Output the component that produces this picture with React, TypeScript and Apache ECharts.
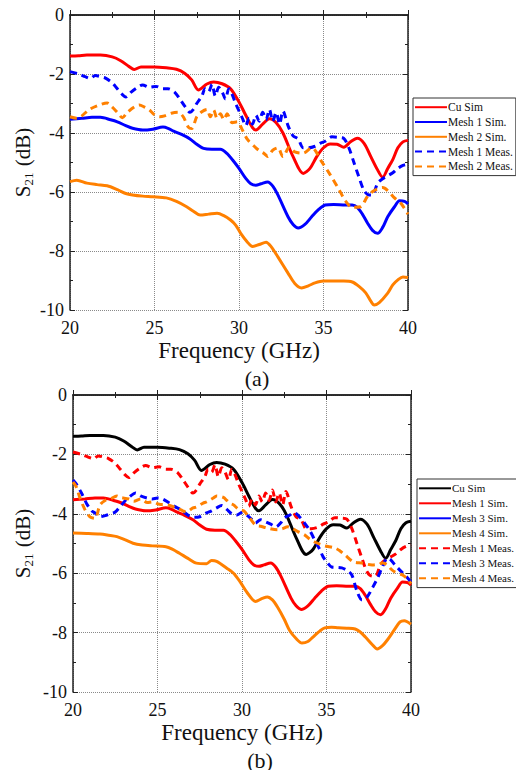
import React, { useEffect, useRef } from "react";
import * as echarts from "echarts";

const FONT = "Liberation Serif";

// ---------- data (frequency GHz, S21 dB) ----------
const cuSim: [number, number][] = [
  [20, -1.39], [20.5, -1.38], [21, -1.36], [21.8, -1.36], [22.5, -1.42], [23, -1.55], [23.5, -1.75], [23.8, -1.85],
  [24.2, -1.76], [25, -1.76], [25.7, -1.79], [26.3, -1.84], [26.8, -1.98], [27.2, -2.2], [27.6, -2.54], [28.1, -2.34],
  [28.5, -2.27], [29, -2.33], [29.5, -2.5], [30, -2.95], [30.4, -3.4], [30.8, -3.82], [31.0, -3.9], [31.4, -3.7],
  [31.8, -3.52], [32.2, -3.65], [32.6, -4.0], [33.2, -4.8], [33.8, -5.37], [34.2, -5.2], [34.6, -4.8], [35, -4.5],
  [35.4, -4.37], [35.8, -4.38], [36.2, -4.48], [36.6, -4.3], [37, -4.18], [37.4, -4.35], [37.8, -4.8], [38.2, -5.25],
  [38.5, -5.5], [38.8, -5.2], [39.1, -4.9], [39.4, -4.5], [39.7, -4.3], [40, -4.25],
];

const mesh1Sim: [number, number][] = [
  [20, -3.53], [20.7, -3.5], [21.3, -3.47], [21.8, -3.47], [22.4, -3.55], [22.8, -3.62], [23.3, -3.75], [23.7, -3.84],
  [24.3, -3.9], [24.9, -3.87], [25.5, -3.8], [25.8, -3.84], [26.1, -3.93], [26.6, -4.05], [27.1, -4.2], [27.5, -4.38],
  [27.9, -4.52], [28.4, -4.55], [28.9, -4.55], [29.3, -4.7], [29.6, -4.9], [30.0, -5.2], [30.4, -5.54], [30.7, -5.72],
  [31.0, -5.77], [31.3, -5.72], [31.7, -5.66], [32.0, -5.8], [32.3, -6.1], [32.9, -6.84], [33.2, -7.1], [33.5, -7.22],
  [33.9, -7.1], [34.3, -6.84], [34.7, -6.6], [35.1, -6.44], [35.6, -6.42], [36.3, -6.44], [36.7, -6.44], [37.0, -6.52],
  [37.3, -6.75], [37.6, -7.05], [37.9, -7.3], [38.2, -7.4], [38.5, -7.2], [38.8, -6.84], [39.2, -6.5], [39.5, -6.3],
  [39.8, -6.32], [40, -6.4],
];

const mesh2Sim: [number, number][] = [
  [20, -5.65], [20.4, -5.6], [21, -5.7], [21.6, -5.75], [22.2, -5.79], [22.8, -5.92], [23.3, -6.05], [23.7, -6.1],
  [24.3, -6.14], [24.9, -6.16], [25.7, -6.2], [26.3, -6.32], [26.9, -6.5], [27.3, -6.65], [27.7, -6.78], [28.2, -6.75],
  [28.7, -6.72], [29.1, -6.8], [29.5, -6.95], [29.8, -7.12], [30.1, -7.4], [30.5, -7.7], [30.8, -7.85], [31.2, -7.78],
  [31.6, -7.7], [31.9, -7.85], [32.3, -8.2], [32.9, -8.75], [33.3, -9.1], [33.7, -9.25], [34.1, -9.18], [34.5, -9.08],
  [35.0, -9.02], [35.5, -9.02], [36.2, -9.02], [36.7, -9.05], [37.1, -9.2], [37.5, -9.42], [37.8, -9.7], [38.0, -9.83],
  [38.3, -9.75], [38.8, -9.43], [39.1, -9.15], [39.4, -8.98], [39.7, -8.88], [40, -8.9],
];

const mesh1Meas: [number, number][] = [
  [20, -1.92], [20.5, -2.0], [20.9, -2.09], [21.2, -2.15], [21.5, -2.05], [21.8, -2.09], [22.1, -2.14], [22.5, -2.3],
  [22.8, -2.5], [23.1, -2.7], [23.3, -2.78], [23.6, -2.62], [24.0, -2.45], [24.3, -2.37], [24.7, -2.45], [25.1, -2.42],
  [25.5, -2.5], [25.8, -2.5], [26.2, -2.62], [26.5, -2.85], [26.8, -3.1], [27.1, -3.3], [27.3, -3.2], [27.5, -3.0],
  [27.8, -2.75], [28.0, -2.5], [28.2, -2.6], [28.4, -2.35], [28.6, -2.75], [28.8, -2.45], [29.0, -2.6], [29.2, -2.85],
  [29.4, -2.5], [29.6, -2.7], [29.8, -3.0], [30.0, -3.25], [30.2, -3.5], [30.4, -3.75], [30.6, -3.5], [30.8, -3.7],
  [31.0, -3.4], [31.2, -3.6], [31.4, -3.3], [31.6, -3.55], [31.8, -3.2], [32.0, -3.6], [32.2, -3.3], [32.4, -3.7],
  [32.6, -3.25], [32.9, -3.75], [33.2, -4.1], [33.5, -4.2], [33.8, -4.5], [34.1, -4.5], [34.5, -4.45], [34.8, -4.35],
  [35.1, -4.28], [35.5, -4.13], [35.9, -4.15], [36.2, -4.18], [36.5, -4.5], [36.8, -5.0], [37.1, -5.5], [37.4, -5.95],
  [37.7, -6.1], [37.9, -6.1], [38.2, -5.7], [38.5, -5.55], [38.8, -5.45], [39.1, -5.35], [39.4, -5.2], [39.7, -5.1],
  [40, -5.05],
];

const mesh2Meas: [number, number][] = [
  [20, -3.45], [20.4, -3.5], [20.7, -3.42], [21.1, -3.22], [21.6, -3.08], [22.2, -2.98], [22.5, -3.12], [22.8, -3.3],
  [23.1, -3.48], [23.4, -3.3], [23.8, -3.12], [24.1, -3.05], [24.4, -3.12], [24.7, -3.22], [25.0, -3.38], [25.3, -3.45],
  [25.6, -3.42], [26.0, -3.33], [26.4, -3.3], [26.7, -3.45], [27.0, -3.8], [27.2, -3.85], [27.5, -3.45], [27.8, -3.28],
  [28.1, -3.2], [28.3, -3.45], [28.5, -3.22], [28.7, -3.5], [28.9, -3.35], [29.1, -3.55], [29.3, -3.35], [29.6, -3.65],
  [29.9, -3.62], [30.2, -3.9], [30.5, -4.22], [30.9, -4.45], [31.2, -4.6], [31.5, -4.7], [31.7, -4.8], [32.0, -4.58],
  [32.3, -4.5], [32.6, -4.8], [33.0, -4.47], [33.3, -4.64], [33.8, -4.68], [34.3, -4.5], [34.9, -4.98], [35.4, -5.42],
  [35.9, -5.9], [36.3, -6.3], [36.7, -6.52], [37.2, -6.5], [37.6, -6.15], [38.0, -5.95], [38.5, -5.85], [38.8, -5.95],
  [39.2, -6.2], [39.6, -6.4], [40, -6.75],
];

const mesh3Sim: [number, number][] = [];

const mesh4Sim: [number, number][] = [
  [20, -4.65], [20.8, -4.66], [21.6, -4.68], [22.1, -4.72], [22.6, -4.77], [23.1, -4.88], [23.55, -4.99], [24.1, -5.05],
  [24.7, -5.08], [25.5, -5.11], [25.9, -5.2], [26.3, -5.33], [26.8, -5.5], [27.3, -5.66], [27.9, -5.68], [28.2, -5.57],
  [28.5, -5.6], [29.1, -5.83], [29.5, -6.0], [29.9, -6.3], [30.3, -6.65], [30.8, -6.95], [31.2, -6.85], [31.5, -6.8],
  [31.8, -6.9], [32.1, -7.14], [32.5, -7.55], [32.8, -7.91], [33.2, -8.2], [33.55, -8.35], [33.9, -8.3], [34.2, -8.15],
  [34.6, -7.95], [34.9, -7.84], [35.3, -7.82], [35.7, -7.84], [36.2, -7.85], [36.7, -7.88], [37.0, -7.98], [37.3, -8.15],
  [37.7, -8.4], [38.0, -8.55], [38.3, -8.45], [38.6, -8.25], [39.0, -7.92], [39.35, -7.64], [39.6, -7.6], [40, -7.72],
];

const mesh3Meas: [number, number][] = [
  [20, -2.86], [20.2, -3.0], [20.5, -3.3], [20.8, -3.65], [21.1, -3.9], [21.3, -3.97], [21.6, -4.1], [21.9, -4.06],
  [22.2, -4.0], [22.5, -3.94], [22.8, -3.75], [23.1, -3.55], [23.4, -3.4], [23.7, -3.3], [24.0, -3.4], [24.4, -3.47],
  [24.7, -3.5], [25.0, -3.47], [25.3, -3.5], [25.7, -3.64], [26.0, -3.75], [26.4, -3.87], [26.9, -4.08], [27.2, -4.12],
  [27.5, -4.1], [27.9, -3.97], [28.2, -3.9], [28.5, -3.8], [28.8, -3.72], [29.1, -3.85], [29.4, -4.0], [29.7, -4.04],
  [30.0, -3.95], [30.3, -4.05], [30.6, -4.2], [30.8, -4.31], [31.1, -4.2], [31.4, -4.27], [31.7, -4.35], [32.0, -4.44],
  [32.3, -4.3], [32.5, -4.14], [32.8, -4.05], [33.1, -3.97], [33.4, -4.1], [33.7, -4.31], [34.0, -4.55], [34.3, -4.88],
  [34.6, -5.2], [34.8, -5.45], [35.1, -5.68], [35.3, -5.79], [35.6, -5.8], [35.9, -5.82], [36.2, -5.9], [36.5, -6.06],
  [36.8, -6.6], [37.1, -6.9], [37.4, -6.8], [37.75, -6.46], [38.05, -6.13], [38.3, -5.8], [38.6, -5.49], [38.8, -5.55],
  [39.05, -5.72], [39.5, -5.99], [39.7, -6.1], [40, -6.3],
];

const mesh4Meas: [number, number][] = [
  [20, -2.93], [20.2, -3.1], [20.4, -3.45], [20.7, -3.85], [21.0, -4.1], [21.3, -4.15], [21.6, -3.7], [21.9, -3.55],
  [22.2, -3.5], [22.6, -3.4], [22.8, -3.45], [23.3, -3.5], [23.6, -3.58], [24.0, -3.5], [24.4, -3.62], [24.7, -3.6],
  [25.1, -3.68], [25.6, -3.7], [26.1, -3.8], [26.5, -3.9], [26.7, -3.94], [27.1, -3.8], [27.3, -3.77], [27.7, -3.64],
  [27.9, -3.6], [28.3, -3.47], [28.5, -3.4], [28.9, -3.45], [29.1, -3.55], [29.3, -3.65], [29.5, -3.7], [29.8, -3.85],
  [30.1, -3.9], [30.4, -4.1], [30.8, -4.38], [31.1, -4.42], [31.5, -4.48], [32.1, -4.54], [32.4, -4.5], [32.7, -4.44],
  [33.0, -4.5], [33.3, -4.6], [33.7, -4.71], [34.0, -4.85], [34.3, -4.95], [34.6, -5.02], [34.9, -5.08], [35.5, -5.15],
  [35.8, -5.25], [36.1, -5.39], [36.6, -5.62], [37.1, -5.66], [37.7, -5.72], [38.0, -5.7], [38.3, -5.66], [38.6, -5.72],
  [38.8, -5.85], [39.05, -5.96], [39.5, -6.06], [39.8, -6.2], [40, -6.35],
];

const xTicks = { min: 20, max: 40, interval: 5 };
const yTicks = { min: -10, max: 0, interval: 2 };
const xTickLabels = [20, 25, 30, 35, 40];
const yTickLabels = [0, -2, -4, -6, -8, -10];

const RED = "#FF0000";
const BLUE = "#0000FF";
const ORANGE = "#FF8000";
const BLACK = "#000000";

type SeriesDef = { name: string; data: [number, number][]; color: string; dashed: boolean };

const topSeries: SeriesDef[] = [
  { name: "Cu Sim", data: cuSim, color: RED, dashed: false },
  { name: "Mesh 1 Sim.", data: mesh1Sim, color: BLUE, dashed: false },
  { name: "Mesh 2 Sim.", data: mesh2Sim, color: ORANGE, dashed: false },
  { name: "Mesh 1 Meas.", data: mesh1Meas, color: BLUE, dashed: true },
  { name: "Mesh 2 Meas.", data: mesh2Meas, color: ORANGE, dashed: true },
];

const bottomSeries: SeriesDef[] = [
  { name: "Cu Sim", data: cuSim, color: BLACK, dashed: false },
  { name: "Mesh 1 Sim.", data: mesh1Sim, color: RED, dashed: false },
  { name: "Mesh 3 Sim.", data: mesh3Sim, color: BLUE, dashed: false },
  { name: "Mesh 4 Sim.", data: mesh4Sim, color: ORANGE, dashed: false },
  { name: "Mesh 1 Meas.", data: mesh1Meas, color: RED, dashed: true },
  { name: "Mesh 3 Meas.", data: mesh3Meas, color: BLUE, dashed: true },
  { name: "Mesh 4 Meas.", data: mesh4Meas, color: ORANGE, dashed: true },
];

type PanelCfg = {
  defs: SeriesDef[];
  grid: { left: number; top: number; width: number; height: number };
  legend: { left: number; top: number; fontSize: number; lineHeight: number };
  tag: string;
};

const topCfg: PanelCfg = {
  defs: topSeries,
  grid: { left: 70, top: 15, width: 338, height: 295 },
  legend: { left: 413, top: 98, fontSize: 11.5, lineHeight: 14.4 },
  tag: "(a)",
};
const bottomCfg: PanelCfg = {
  defs: bottomSeries,
  grid: { left: 73, top: 10, width: 338, height: 297 },
  legend: { left: 417, top: 94, fontSize: 11, lineHeight: 14.6 },
  tag: "(b)",
};

function buildOption(cfg: PanelCfg) {
  const { defs, grid, legend } = cfg;
  const frame = () => ({ show: true, lineStyle: { color: "#222", width: 1.5 } });
  const tick = () => ({ show: true, inside: true, length: 5, lineStyle: { color: "#222", width: 1 } });
  const minor = () => ({ show: true, splitNumber: 2, length: 3, lineStyle: { color: "#222", width: 1 } });
  const split = () => ({ show: true, lineStyle: { color: "#8a8a8a", type: "dotted", width: 1 } });
  return {
    animation: false,
    backgroundColor: "transparent",
    textStyle: { fontFamily: FONT },
    grid: { left: grid.left, top: grid.top, width: grid.width, height: grid.height },
    xAxis: [
      {
        type: "value", min: xTicks.min, max: xTicks.max, interval: xTicks.interval, position: "bottom",
        axisLine: frame(), axisTick: tick(), minorTick: minor(), splitLine: split(),
        axisLabel: { show: false },
      },
      {
        type: "value", min: xTicks.min, max: xTicks.max, interval: xTicks.interval, position: "top",
        axisLine: frame(), axisTick: tick(), minorTick: minor(), splitLine: { show: false },
        axisLabel: { show: false },
      },
    ],
    yAxis: [
      {
        type: "value", min: yTicks.min, max: yTicks.max, interval: yTicks.interval, position: "left",
        axisLine: frame(), axisTick: tick(), minorTick: minor(), splitLine: split(),
        axisLabel: { show: false },
      },
      {
        type: "value", min: yTicks.min, max: yTicks.max, interval: yTicks.interval, position: "right",
        axisLine: frame(), axisTick: tick(), minorTick: minor(), splitLine: { show: false },
        axisLabel: { show: false },
      },
    ],
    legend: {
      show: true,
      orient: "vertical",
      left: legend.left,
      top: legend.top,
      data: defs.map((d) => d.name),
      itemWidth: 32,
      itemHeight: 10,
      itemGap: 0.4,
      padding: [2, 3, 2, 1],
      borderColor: "#333",
      borderWidth: 1,
      backgroundColor: "#fff",
      selectedMode: false,
      itemStyle: { opacity: 0, borderWidth: 0 },
      textStyle: {
        color: "#111", fontSize: legend.fontSize, fontFamily: FONT,
        lineHeight: legend.lineHeight, padding: [0, 0, 0, -4],
      },
    },
    series: defs.map((d) => ({
      name: d.name,
      type: "line",
      xAxisIndex: 0,
      yAxisIndex: 0,
      data: d.data.map((p) => [p[0], p[1]]),
      smooth: 0.3,
      showSymbol: false,
      symbol: "none",
      color: d.color,
      itemStyle: { color: d.color, opacity: 0 },
      lineStyle: { color: d.color, width: 3, type: d.dashed ? [7, 5] : "solid" },
    })),
  };
}

// axis texts placed with the chart's own scales (convertToPixel)
function buildTexts(chart: any, cfg: PanelCfg) {
  const px = (v: number) => chart.convertToPixel({ xAxisIndex: 0 }, v) as number;
  const py = (v: number) => chart.convertToPixel({ yAxisIndex: 0 }, v) as number;
  const left = px(xTicks.min);
  const right = px(xTicks.max);
  const bottom = py(yTicks.min);
  const topY = py(yTicks.max);
  const els: any[] = [];
  xTickLabels.forEach((v, i) => {
    els.push({
      type: "text", id: "xl" + i, x: px(v), y: bottom + 9, silent: true,
      style: { text: String(v), fontSize: 18, fontFamily: FONT, fill: "#111", align: "center", textAlign: "center", verticalAlign: "top", textVerticalAlign: "top" },
    });
  });
  yTickLabels.forEach((v, i) => {
    els.push({
      type: "text", id: "yl" + i, x: left - 6, y: py(v), silent: true,
      style: { text: String(v), fontSize: 18, fontFamily: FONT, fill: "#111", align: "right", textAlign: "right", verticalAlign: "middle", textVerticalAlign: "middle" },
    });
  });
  els.push({
    type: "text", id: "xname", x: (left + right) / 2, y: bottom + 40, silent: true,
    style: { text: "Frequency (GHz)", fontSize: 23, fontFamily: FONT, fill: "#111", align: "center", textAlign: "center", verticalAlign: "middle", textVerticalAlign: "middle" },
  });
  els.push({
    type: "text", id: "yname", x: 23, y: (topY + bottom) / 2, rotation: Math.PI / 2, silent: true,
    style: {
      text: "{a|S}{b|21}{a| (dB)}", fill: "#111", fontFamily: FONT, fontSize: 21,
      align: "center", textAlign: "center", verticalAlign: "middle", textVerticalAlign: "middle",
      rich: {
        a: { fontSize: 21, fontFamily: FONT, fill: "#111", color: "#111", lineHeight: 24 },
        b: { fontSize: 13, fontFamily: FONT, fill: "#111", color: "#111", lineHeight: 24, verticalAlign: "bottom", padding: [10, 1, 0, 0] },
      },
    },
  });
  els.push({
    type: "text", id: "tag", x: (left + right) / 2 + 18, y: bottom + 68, silent: true,
    style: { text: cfg.tag, fontSize: 22, fontFamily: FONT, fill: "#111", align: "center", textAlign: "center", verticalAlign: "middle", textVerticalAlign: "middle" },
  });
  return els;
}

function Panel({ cfg, top, height }: { cfg: PanelCfg; top: number; height: number }) {
  const ref = useRef<HTMLDivElement>(null);
  useEffect(() => {
    const el = ref.current;
    if (!el) return;
    const chart = echarts.init(el, undefined, { renderer: "svg" });
    chart.setOption(buildOption(cfg));
    chart.setOption({ graphic: buildTexts(chart, cfg) });
    return () => chart.dispose();
  }, [cfg]);
  return <div ref={ref} style={{ position: "absolute", left: 0, top, width: 516, height }} />;
}

export default function App() {
  return (
    <div style={{ position: "absolute", left: 0, top: 0, width: 516, height: 770, background: "#fff", overflow: "hidden" }}>
      <Panel cfg={topCfg} top={0} height={395} />
      <Panel cfg={bottomCfg} top={385} height={385} />
    </div>
  );
}
